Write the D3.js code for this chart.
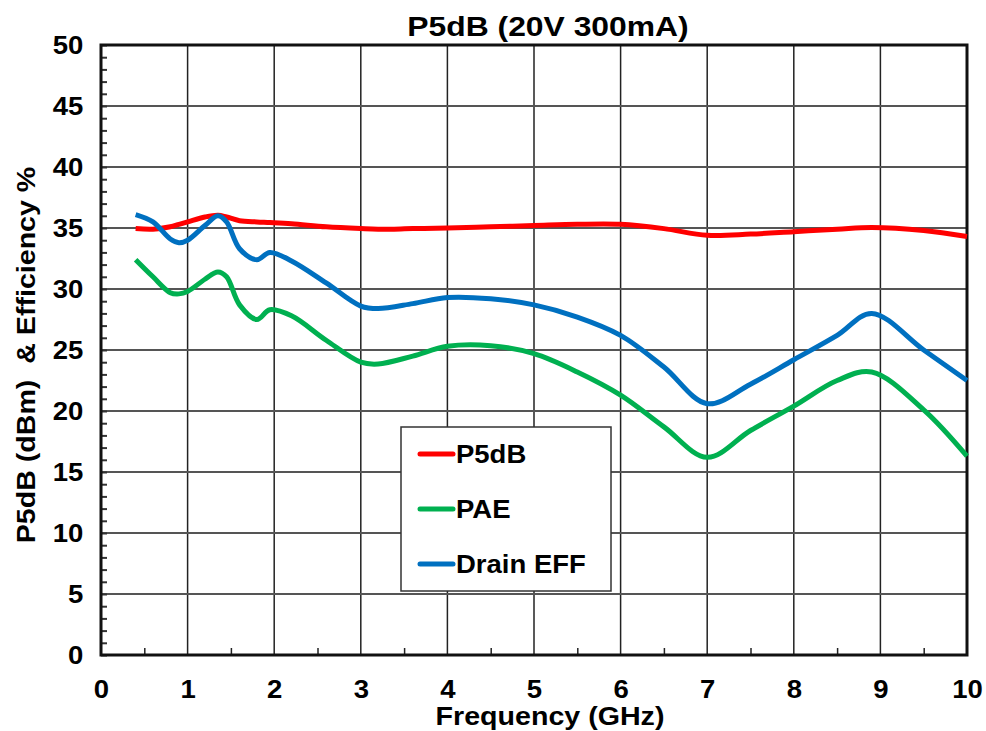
<!DOCTYPE html>
<html>
<head>
<meta charset="utf-8">
<script src="https://cdn.jsdelivr.net/npm/d3@7"></script>
<style>
  body { margin: 0; background: #fff; }
  text { font-family: "Liberation Sans", Arial, sans-serif; font-weight: bold; }
</style>
</head>
<body>
<div id="chart"></div>
<script>
var width = 986,
    height = 731,
    margin = {top: 45, right: 19, bottom: 76, left: 101};

// data
var freq  = [0.4, 0.6, 0.8, 0.9, 1.0, 1.2, 1.35, 1.45, 1.6, 1.8, 1.95, 2.2, 2.6, 3.0, 3.2, 3.6, 4.0, 4.5, 5.0, 5.5, 6.0, 6.5, 7.0, 7.5, 8.0, 8.5, 8.9, 9.5, 10.0];
var p5db  = [34.95, 34.9, 35.1, 35.3, 35.5, 35.9, 36.05, 35.9, 35.6, 35.5, 35.45, 35.35, 35.1, 34.95, 34.9, 34.95, 35.0, 35.1, 35.2, 35.3, 35.3, 34.95, 34.4, 34.5, 34.7, 34.9, 35.05, 34.8, 34.3];
var pae   = [32.4, 31.0, 29.7, 29.6, 29.8, 30.8, 31.4, 31.0, 28.7, 27.5, 28.3, 27.8, 25.8, 24.0, 23.85, 24.5, 25.3, 25.35, 24.7, 23.2, 21.3, 18.7, 16.2, 18.4, 20.4, 22.5, 23.2, 20.1, 16.3];
var drain = [36.1, 35.5, 34.1, 33.8, 34.0, 35.2, 36.0, 35.5, 33.3, 32.4, 33.0, 32.3, 30.5, 28.6, 28.4, 28.8, 29.3, 29.2, 28.7, 27.7, 26.2, 23.6, 20.6, 22.2, 24.2, 26.2, 28.0, 25.0, 22.5];

var seriesNames  = ["P5dB", "PAE", "Drain EFF"];
var seriesColors = ["#ff0000", "#00b050", "#0070c0"];
var seriesData   = [p5db, pae, drain];

var xTicks = [0, 1, 2, 3, 4, 5, 6, 7, 8, 9, 10];
var yTicks = [0, 5, 10, 15, 20, 25, 30, 35, 40, 45, 50];

var w = width - margin.left - margin.right,
    h = height - margin.top - margin.bottom;
var stretch = "scale(1.1,1)";

var svg = d3.select("#chart")
  .append("svg")
    .attr("width", width)
    .attr("height", height);

var g = svg.append("g")
    .attr("transform", "translate(" + margin.left + "," + margin.top + ")");

var x = d3.scaleLinear().domain([0, 10]).range([0, w]);
var y = d3.scaleLinear().domain([0, 50]).range([h, 0]);

// grid
g.selectAll(".vgrid")
  .data(xTicks.slice(1, -1))
  .enter()
  .append("line")
    .attr("x1", d => x(d)).attr("x2", d => x(d))
    .attr("y1", 0).attr("y2", h)
    .attr("stroke", "#222")
    .attr("stroke-width", 1.5);

g.selectAll(".hgrid")
  .data(yTicks.slice(1, -1))
  .enter()
  .append("line")
    .attr("x1", 0).attr("x2", w)
    .attr("y1", d => y(d)).attr("y2", d => y(d))
    .attr("stroke", "#555")
    .attr("stroke-width", 2);

// minor ticks (inside)
g.append("g")
  .call(d3.axisRight(y).ticks(50).tickSize(6).tickFormat(""))
  .call(s => s.select(".domain").remove())
  .selectAll("line").attr("stroke", "#333").attr("stroke-width", 2);

g.append("g")
  .attr("transform", "translate(0," + h + ")")
  .call(d3.axisTop(x).tickValues(d3.range(0.5, 10, 1)).tickSize(7).tickFormat(""))
  .call(s => s.select(".domain").remove())
  .selectAll("line").attr("stroke", "#222").attr("stroke-width", 1.5);

// frame
g.append("rect")
  .attr("width", w).attr("height", h)
  .attr("fill", "none")
  .attr("stroke", "#111")
  .attr("stroke-width", 3);

// axis labels
var xAxis = g.append("g")
  .attr("transform", "translate(0," + h + ")")
  .call(d3.axisBottom(x).tickValues(xTicks).tickSize(0).tickPadding(0));
xAxis.select(".domain").remove();
xAxis.selectAll("text")
  .attr("y", 43).attr("dy", null)
  .attr("transform", stretch)
  .style("font-size", "25px")
  .attr("fill", "#000");

var yAxis = g.append("g")
  .call(d3.axisLeft(y).tickValues(yTicks).tickSize(0).tickPadding(0));
yAxis.select(".domain").remove();
yAxis.selectAll("text")
  .attr("x", -16).attr("dy", "0.35em")
  .attr("transform", stretch)
  .style("font-size", "25px")
  .attr("fill", "#000");

// curves
var line = d3.line()
  .x(d => x(d[0]))
  .y(d => y(d[1]))
  .curve(d3.curveCatmullRom.alpha(0.5));

seriesData.forEach(function(vals, i) {
  g.append("path")
    .datum(freq.map((f, j) => [f, vals[j]]))
    .attr("d", line)
    .attr("fill", "none")
    .attr("stroke", seriesColors[i])
    .attr("stroke-width", 5)
    .attr("stroke-linejoin", "round");
});

// legend
var legend = svg.append("g").attr("transform", "translate(401,427)");
legend.append("rect")
  .attr("width", 210).attr("height", 164)
  .attr("fill", "#fff")
  .attr("stroke", "#333")
  .attr("stroke-width", 1.5);

seriesNames.forEach(function(name, i) {
  var row = legend.append("g").attr("transform", "translate(0," + (27 + i * 55) + ")");
  row.append("line")
    .attr("x1", 19).attr("x2", 52)
    .attr("stroke", seriesColors[i])
    .attr("stroke-width", 5)
    .attr("stroke-linecap", "round");
  row.append("text")
    .attr("transform", "translate(55,0) " + stretch)
    .attr("dy", "0.35em")
    .style("font-size", "25px")
    .text(name);
});

// titles
svg.append("text")
  .attr("transform", "translate(548,36) scale(1.18,1)")
  .attr("text-anchor", "middle")
  .style("font-size", "27px")
  .text("P5dB (20V 300mA)");

svg.append("text")
  .attr("transform", "translate(550,725) " + stretch)
  .attr("text-anchor", "middle")
  .style("font-size", "26px")
  .text("Frequency (GHz)");

svg.append("text")
  .attr("transform", "translate(35,355) rotate(-90) " + stretch)
  .attr("text-anchor", "middle")
  .style("font-size", "26px")
  .attr("xml:space", "preserve")
  .text("P5dB (dBm)  & Efficiency %");
</script>
</body>
</html>
